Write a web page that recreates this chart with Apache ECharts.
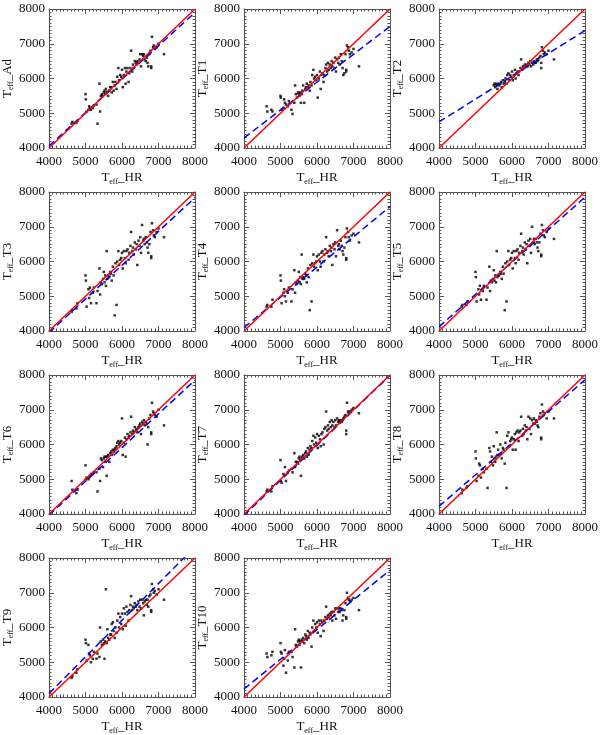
<!DOCTYPE html>
<html>
<head>
<meta charset="utf-8">
<script src="https://cdn.jsdelivr.net/npm/echarts@6/dist/echarts.min.js"></script>
<style>
html, body { margin: 0; padding: 0; background: #fff; }
#chart { width: 602px; height: 735px; }
</style>
</head>
<body>
<div id="chart"></div>
<script>
// T_eff from HR (shared x values for every panel)
var teffHR = [4620, 4640, 4750, 4780, 5000, 5010, 5030, 5080, 5100, 5120,
  5150, 5200, 5230, 5300, 5330, 5380, 5400, 5420, 5450, 5480,
  5500, 5520, 5540, 5560, 5580, 5600, 5620, 5650, 5680, 5700,
  5720, 5750, 5770, 5800, 5820, 5850, 5870, 5900, 5920, 5950,
  5980, 6000, 6020, 6050, 6080, 6100, 6120, 6150, 6180, 6200,
  6230, 6250, 6280, 6300, 6320, 6350, 6380, 6400, 6420, 6450,
  6480, 6500, 6520, 6550, 6580, 6600, 6620, 6650, 6680, 6700,
  6720, 6750, 6780, 6800, 6800, 6820, 6850, 6870, 6900, 6950,
  7000, 7150];

var teffAd = [4700, 4750, 4720, 4780, 5550, 5400, 5050, 5100, 5200, 5150,
  5100, 5150, 5220, 5250, 4700, 5850, 5050, 5500, 5550, 5500,
  5600, 5650, 5550, 5700, 5600, 5620, 5500, 5650, 5750, 5750,
  5600, 5900, 5650, 5800, 5900, 5700, 6050, 6300, 5950, 6100,
  6050, 6250, 5750, 6100, 6300, 5850, 6200, 6300, 5900, 6150,
  6300, 6800, 6200, 6400, 6300, 6500, 6450, 6400, 6500, 6450,
  6550, 6700, 6350, 6700, 6650, 6700, 6550, 6500, 6600, 6450,
  6350, 6700, 6800, 6300, 6350, 7200, 6900, 6950, 6850, 6900,
  7000, 6700];

var teffT1 = [5200, 5050, 5100, 5050, 5500, 5450, 5100, 5150, 5400, 5300,
  5250, 5200, 5350, 5100, 4980, 5300, 5800, 5550, 5450, 5600,
  5550, 5500, 5600, 5300, 5550, 5650, 5800, 5300, 5700, 5750,
  5850, 5750, 5800, 5650, 5900, 5800, 6100, 6250, 6000, 6050,
  5950, 6100, 5450, 6000, 6200, 5700, 6100, 6150, 5900, 6100,
  6300, 6400, 6200, 6450, 6250, 6400, 6300, 6500, 6350, 6450,
  6300, 6600, 6200, 6550, 6450, 6600, 6400, 6700, 6500, 6300,
  6100, 6150, 6700, 6250, 6200, 6950, 6900, 6800, 6700, 6750,
  6850, 6350];

var teffT2 = [null, null, null, null, null, null, null, null, null, null,
  null, null, null, null, null, null, null, null, null, null,
  5800, 5850, 5750, 5850, 5800, 5700, 5850, 5800, 5850, 5900,
  5750, 5950, 5850, 5900, 6000, 5850, 6100, 6150, 5950, 6100,
  6050, 6200, 5950, 6100, 6250, 6000, 6150, 6200, 6100, 6200,
  6300, 6550, 6250, 6350, 6300, 6400, 6350, 6400, 6350, 6450,
  6400, 6500, 6350, 6450, 6400, 6500, 6450, 6450, 6550, 6500,
  6550, 6600, 6650, 6300, 6450, 6900, 6800, 6700, 6750, 6700,
  6800, 6550];

var teffT3 = [4550, 4600, 4650, 4800, 5600, 5450, 4700, 5200, 4950, 5250,
  4800, 5100, 5250, 4800, 5150, 5800, 5050, 5400, 5350, 5500,
  5700, 5400, 5600, 5300, 6300, 5500, 5600, 5550, 5700, 5650,
  5450, 5850, 5600, 4450, 5950, 4750, 6000, 6300, 5900, 6050,
  6100, 6250, 5800, 6300, 6100, 5950, 6300, 6350, 6050, 6250,
  6450, 6850, 6300, 6400, 6200, 6550, 6350, 6500, 5900, 6600,
  6450, 6700, 6250, 7050, 6600, 6650, 6500, 6700, 6550, 6400,
  6250, 6500, 6850, 6150, 6100, 7100, 6900, 6750, 6700, 6850,
  6950, 6700];

var teffT4 = [4700, 4750, 4700, 4900, 5600, 5450, 4800, 5100, 5200, 5000,
  4850, 5100, 5250, 4850, 5200, 5750, 5100, 5400, 5350, 5450,
  5700, 5400, 5550, 5350, 6200, 5500, 5550, 5500, 5650, 5600,
  5400, 5800, 5550, 4600, 5900, 4850, 5950, 6200, 5850, 5950,
  6000, 6150, 5750, 6200, 6000, 5850, 6250, 6300, 6000, 6200,
  6350, 6700, 6250, 6300, 6150, 6450, 6300, 6400, 5900, 6500,
  6350, 6550, 6150, 6900, 6450, 6500, 6350, 6600, 6450, 6300,
  6200, 6400, 6700, 6100, 6050, 6950, 6850, 6700, 6600, 6750,
  6800, 6550];

var teffT5 = [4700, 4750, 4750, 4850, 5700, 5550, 4850, 5200, 5050, 5300,
  4900, 5150, 5300, 4900, 5250, 5850, 5150, 5450, 5400, 5500,
  5750, 5450, 5600, 5400, 6300, 5550, 5600, 5600, 5700, 5650,
  5500, 5850, 5650, 4600, 5950, 4850, 6000, 6300, 5900, 6050,
  6100, 6250, 5800, 6300, 6100, 5950, 6300, 6350, 6050, 6250,
  6450, 6800, 6300, 6400, 6200, 6550, 6350, 6500, 5950, 6600,
  6450, 6650, 6250, 7000, 6550, 6650, 6500, 6650, 6550, 6400,
  6300, 6550, 6800, 6200, 6150, 7050, 6900, 6750, 6700, 6850,
  6950, 6650];

var teffT6 = [4950, 4700, 4600, 4700, 5400, 5000, 5050, 5000, 5050, 5100,
  5150, 5150, 5200, 5200, 4650, 5300, 4950, 5600, 5550, 5350,
  5600, 5650, 5500, 5650, 5100, 5650, 5700, 5500, 5750, 5800,
  5700, 5850, 5800, 5850, 5900, 5950, 6050, 6100, 6000, 6050,
  6100, 6750, 5700, 6050, 6200, 5650, 6150, 6300, 6200, 6250,
  6350, 6800, 6300, 6400, 6350, 6500, 6400, 6450, 6350, 6500,
  6550, 6600, 6300, 6650, 6600, 6700, 6550, 6650, 6600, 6000,
  6500, 6750, 6850, 6300, 6350, 7200, 6950, 6900, 6850, 6800,
  7000, 6550];

var teffT7 = [4650, 4700, 4650, 4800, 5550, 4950, 4900, 5150, 5100, 5350,
  4950, 5200, 5250, 5300, 5200, 5750, 5350, 5500, 5500, 5450,
  5600, 5650, 5550, 5100, 5600, 5650, 5700, 5600, 5750, 5800,
  5650, 5900, 5700, 5850, 5950, 5900, 6100, 6250, 6000, 6200,
  6050, 6300, 5900, 6250, 6150, 5950, 6300, 6350, 6000, 6450,
  6500, 6950, 6400, 6550, 6450, 6650, 6500, 6700, 6550, 6650,
  6500, 6700, 6550, 6750, 6650, 6700, 6650, 6700, 6650, 6700,
  6750, 6800, 6850, 6400, 6300, 7200, 6950, 6900, 6950, 7000,
  7050, 6900];

var teffT8 = [4600, 4700, 4750, 4800, 5800, 5600, 4950, 5100, 5450, 5400,
  5050, 5300, 5200, 5300, 4750, 5900, 5800, 5500, 5650, 5400,
  5950, 5600, 5500, 5650, 6350, 5700, 5850, 5700, 6000, 5750,
  5600, 5900, 5850, 5450, 6050, 4750, 6250, 6350, 5950, 6100,
  6150, 6200, 5850, 6150, 6300, 5850, 6350, 6400, 6100, 6350,
  6400, 6800, 6250, 6450, 6300, 6550, 6400, 6500, 6150, 6800,
  6450, 6750, 6300, 6700, 6600, 6750, 6600, 6700, 6650, 6550,
  6500, 6800, 6900, 6200, 6150, 7150, 6950, 6850, 6900, 6750,
  6950, 6750];

var teffT9 = [4550, 4600, 4700, 4800, 5650, 5550, 5050, 5500, 5250, 5200,
  5000, 5100, 5300, 5100, 5250, 5150, 6000, 5600, 5500, 5650,
  5550, 5100, 5600, 7100, 5550, 5950, 5700, 5650, 5800, 5800,
  6100, 6150, 5900, 5700, 6000, 5850, 6200, 6400, 6000, 6300,
  6100, 6400, 5950, 6550, 6400, 6050, 6600, 6450, 6200, 6500,
  6650, 6900, 6500, 6600, 6550, 6700, 6600, 6650, 6500, 6750,
  6600, 6800, 6550, 6800, 6700, 6350, 6750, 6800, 6650, 6800,
  6600, 6900, 6950, 6500, 6450, 7250, 7100, 7000, 7050, 6950,
  7100, 6800];

var teffT10 = [5250, 5150, 5200, 5300, 5550, 5300, 5250, 4900, 5100, 5350,
  4700, 5050, 5300, 5300, 5150, 4850, 5950, 5500, 5450, 5600,
  5650, 5500, 5600, 4850, 5650, 5600, 5700, 5550, 5800, 5750,
  5650, 5900, 5700, 5850, 5800, 5450, 6000, 6200, 5900, 6100,
  6000, 6150, 5850, 6200, 6100, 5750, 6200, 6150, 5900, 6200,
  6300, 6600, 6250, 6350, 6300, 6400, 6350, 6450, 6200, 6450,
  6350, 6550, 6250, 6550, 6450, 6550, 6450, 6550, 6500, 6200,
  6350, 6500, 6700, 6300, 6250, 7000, 6850, 6800, 6750, 6800,
  6850, 6500];

var panelNames = ["Ad", "T1", "T2", "T3", "T4", "T5", "T6", "T7", "T8", "T9", "T10"];
var panelValues = [teffAd, teffT1, teffT2, teffT3, teffT4, teffT5, teffT6, teffT7, teffT8, teffT9, teffT10];

// linear fit (blue dashed) read at x = 4000 and x = 8000
var fitAt4000 = [4060, 4290, 4750, 3950, 4100, 4120, 3970, 3960, 4220, 4100, 4230];
var fitAt8000 = [7900, 7500, 7380, 7840, 7580, 7850, 7850, 7990, 7860, 8320, 7650];

var axisMin = 4000, axisMax = 8000, axisStep = 1000;

var chart = echarts.init(document.getElementById("chart"));

var font = "Liberation Serif";
var frameColor = "#555";
var richName = {
  a: { fontFamily: font, fontSize: 13, color: "#111", lineHeight: 16 },
  s: { fontFamily: font, fontSize: 8, color: "#111", lineHeight: 16, verticalAlign: "bottom", padding: [6, 0, 0, 0] }
};

var grids = [], xAxes = [], yAxes = [], series = [];

function axisBase(showLabel, pos) {
  return {
    type: "value",
    min: axisMin,
    max: axisMax,
    interval: axisStep,
    position: pos,
    splitLine: { show: false },
    axisLine: { show: true, onZero: false, lineStyle: { color: frameColor, width: 1 } },
    axisTick: { show: true, inside: true, length: 5, lineStyle: { color: frameColor } },
    minorTick: { show: true, splitNumber: 10, length: 2.5, lineStyle: { color: frameColor } },
    axisLabel: {
      show: showLabel, fontFamily: font, fontSize: 13, color: "#111",
      formatter: function (v) { return String(v); }
    }
  };
}

panelNames.forEach(function (name, i) {
  var col = i % 3, row = Math.floor(i / 3);
  grids.push({
    left: 49 + col * 195,
    top: 9 + row * 183,
    width: 146,
    height: 139,
    outerBoundsMode: "none"
  });

  var xb = axisBase(true, "bottom");
  xb.gridIndex = i;
  xb.axisLabel.margin = 7;
  xb.name = "{a|T}{s|eff}{a|_HR}";
  xb.nameLocation = "middle";
  xb.nameGap = 22;
  xb.nameTextStyle = { rich: richName };
  var xt = axisBase(false, "top");
  xt.gridIndex = i;

  var yl = axisBase(true, "left");
  yl.gridIndex = i;
  yl.axisLabel.margin = 4;
  yl.name = "{a|T}{s|eff}{a|_" + name + "}";
  yl.nameLocation = "middle";
  yl.nameRotate = 90;
  yl.nameGap = 31;
  yl.nameTextStyle = { rich: richName };
  var yr = axisBase(false, "right");
  yr.gridIndex = i;

  xAxes.push(xb, xt);
  yAxes.push(yl, yr);

  var pts = [];
  panelValues[i].forEach(function (v, k) {
    if (v !== null) pts.push([teffHR[k], v]);
  });

  series.push({
    type: "scatter",
    xAxisIndex: 2 * i,
    yAxisIndex: 2 * i,
    symbol: "rect",
    symbolSize: 2.5,
    itemStyle: { color: "#000" },
    data: pts,
    silent: true
  });
  series.push({
    type: "line",
    xAxisIndex: 2 * i,
    yAxisIndex: 2 * i,
    showSymbol: false,
    clip: true,
    lineStyle: { color: "#0000ff", width: 1.5, type: [7, 4] },
    data: [[axisMin, fitAt4000[i]], [axisMax, fitAt8000[i]]],
    silent: true
  });
  series.push({
    type: "line",
    xAxisIndex: 2 * i,
    yAxisIndex: 2 * i,
    showSymbol: false,
    clip: true,
    lineStyle: { color: "#ff0000", width: 1.5 },
    data: [[axisMin, axisMin], [axisMax, axisMax]],
    silent: true
  });
});

chart.setOption({
  backgroundColor: "#fff",
  animation: false,
  grid: grids,
  xAxis: xAxes,
  yAxis: yAxes,
  series: series
});
</script>
</body>
</html>
